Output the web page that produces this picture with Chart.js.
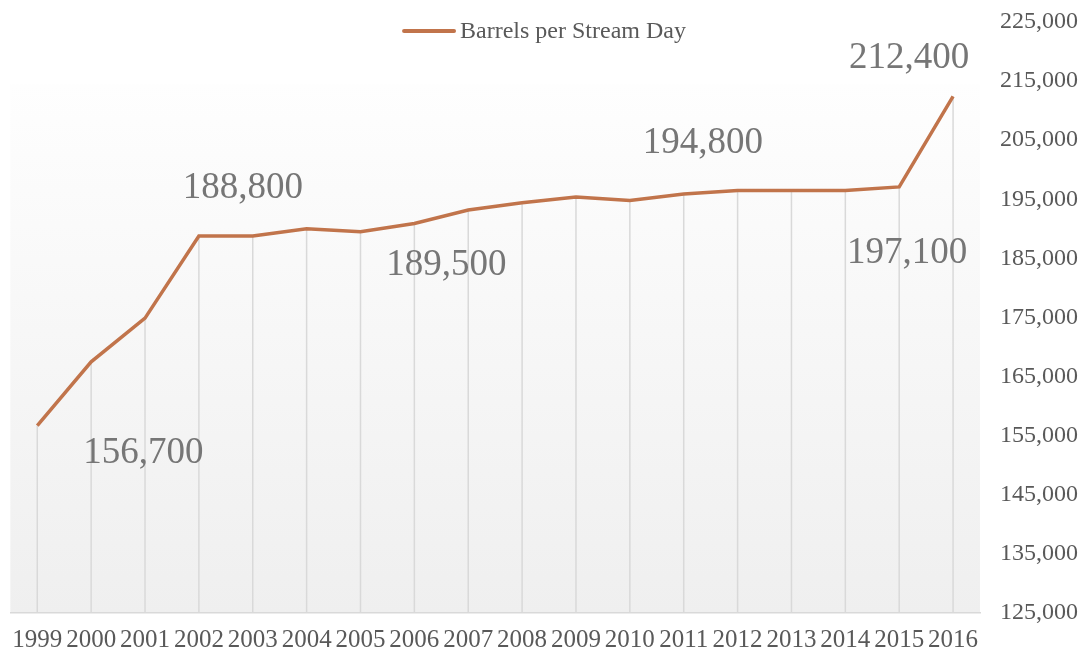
<!DOCTYPE html>
<html>
<head>
<meta charset="utf-8">
<title>Barrels per Stream Day</title>
<script src="https://cdn.jsdelivr.net/npm/chart.js@4.4.0/dist/chart.umd.min.js"></script>
<style>
  body { margin: 0; background: #ffffff; }
  #wrap { width: 1088px; height: 652px; }
</style>
</head>
<body>
<div id="wrap"><canvas id="capacity" width="1088" height="652"></canvas></div>
<script>
var years = ["1999", "2000", "2001", "2002", "2003", "2004", "2005", "2006", "2007",
  "2008", "2009", "2010", "2011", "2012", "2013", "2014", "2015", "2016"];
var barrels = [156700, 167500, 174900, 188800, 188800, 190000, 189500, 190900, 193200,
  194400, 195400, 194800, 195900, 196500, 196500, 196500, 197100, 212400];
var seriesName = "Barrels per Stream Day";
var axisMin = 125000;
var axisMax = 225000;
var axisStep = 10000;
// points that carry a value label
var labelled = [0, 3, 6, 11, 16, 17];

var lineColor = "#c1744b";
var textColor = "#595959";
var serif = "'Liberation Serif', 'Times New Roman', serif";

function fmt(v) {
  return v.toLocaleString("en-US");
}

// gradient fill behind the plot, like the excel plot area
var backgroundPlugin = {
  id: "plotBackground",
  beforeDraw: function (chart) {
    var ctx = chart.ctx;
    var area = chart.chartArea;
    var top = chart.scales.y.getPixelForValue(axisMax - axisStep) + 3;
    var grad = ctx.createLinearGradient(0, top, 0, area.bottom);
    grad.addColorStop(0, "#fefefe");
    grad.addColorStop(1, "#efefef");
    ctx.save();
    ctx.fillStyle = grad;
    ctx.fillRect(area.left, top, area.right - area.left, area.bottom - top);
    ctx.restore();
  }
};

// drop lines from each point down to the axis
var dropLinePlugin = {
  id: "dropLines",
  beforeDatasetsDraw: function (chart) {
    var ctx = chart.ctx;
    var meta = chart.getDatasetMeta(0);
    var bottom = chart.chartArea.bottom;
    ctx.save();
    ctx.strokeStyle = "#d9d9d9";
    ctx.lineWidth = 1.5;
    meta.data.forEach(function (pt) {
      ctx.beginPath();
      ctx.moveTo(pt.x, pt.y);
      ctx.lineTo(pt.x, bottom);
      ctx.stroke();
    });
    ctx.restore();
  }
};

// value labels, nudged off the line the way they were placed by hand
var valueLabelPlugin = {
  id: "valueLabels",
  afterDatasetsDraw: function (chart, args, opts) {
    var ctx = chart.ctx;
    var meta = chart.getDatasetMeta(0);
    ctx.save();
    ctx.font = "37px " + serif;
    ctx.fillStyle = "#767676";
    ctx.textAlign = "center";
    ctx.textBaseline = "middle";
    labelled.forEach(function (idx, i) {
      var pt = meta.data[idx];
      var off = opts.offsets[i];
      ctx.fillText(fmt(barrels[idx]), pt.x + off[0], pt.y + off[1]);
    });
    ctx.restore();
  }
};

// legend drawn by hand so it can sit level with the top tick
var legendPlugin = {
  id: "topLegend",
  afterDraw: function (chart) {
    var ctx = chart.ctx;
    ctx.save();
    ctx.font = "24px " + serif;
    var tw = ctx.measureText(seriesName).width;
    var lineLen = 54;
    var gap = 4;
    var x0 = chart.width / 2 - (lineLen + gap + tw) / 2;
    var y = 31;
    ctx.strokeStyle = lineColor;
    ctx.lineWidth = 4;
    ctx.lineCap = "round";
    ctx.beginPath();
    ctx.moveTo(x0 + 2, y);
    ctx.lineTo(x0 + lineLen - 2, y);
    ctx.stroke();
    ctx.fillStyle = textColor;
    ctx.textAlign = "left";
    ctx.textBaseline = "middle";
    ctx.fillText(seriesName, x0 + lineLen + gap, y + 1);
    ctx.restore();
  }
};

function make_chart() {
  var config = {
    type: "line",
    data: {
      labels: years,
      datasets: [{
        label: seriesName,
        data: barrels,
        borderColor: lineColor,
        backgroundColor: lineColor,
        borderWidth: 3.5,
        pointRadius: 0,
        tension: 0,
        fill: false
      }]
    },
    options: {
      responsive: false,
      animation: false,
      layout: {
        padding: { top: 22, left: 10, right: 0, bottom: 0 }
      },
      scales: {
        x: {
          offset: true,
          grid: { display: false, drawTicks: false, tickLength: 0 },
          border: { display: true, color: "#d9d9d9", width: 1.5 },
          ticks: {
            autoSkip: false,
            maxRotation: 0,
            padding: 12,
            color: textColor,
            font: { family: serif, size: 25 }
          },
          afterFit: function (scale) {
            scale.height = 39;
          }
        },
        y: {
          position: "right",
          min: axisMin,
          max: axisMax,
          grid: { display: false, drawTicks: false, tickLength: 0 },
          border: { display: false },
          ticks: {
            stepSize: axisStep,
            padding: 20,
            color: textColor,
            font: { family: serif, size: 24 },
            callback: function (v) { return fmt(v); }
          },
          afterFit: function (scale) {
            // fixed width, and no extra room asked for above/below
            scale.width = 108;
            scale.paddingTop = 0;
            scale.paddingBottom = 0;
          }
        }
      },
      plugins: {
        legend: { display: false },
        tooltip: { enabled: false },
        valueLabels: {
          offsets: [[106, 28], [44, -48], [86, 33], [73, -57], [8, 66], [-44, -38]]
        }
      }
    },
    plugins: [backgroundPlugin, dropLinePlugin, valueLabelPlugin, legendPlugin]
  };

  var canvas = document.getElementById("capacity");
  var ctx = canvas.getContext("2d");
  canvas.chart = new Chart(ctx, config);
}

make_chart();
</script>
</body>
</html>
